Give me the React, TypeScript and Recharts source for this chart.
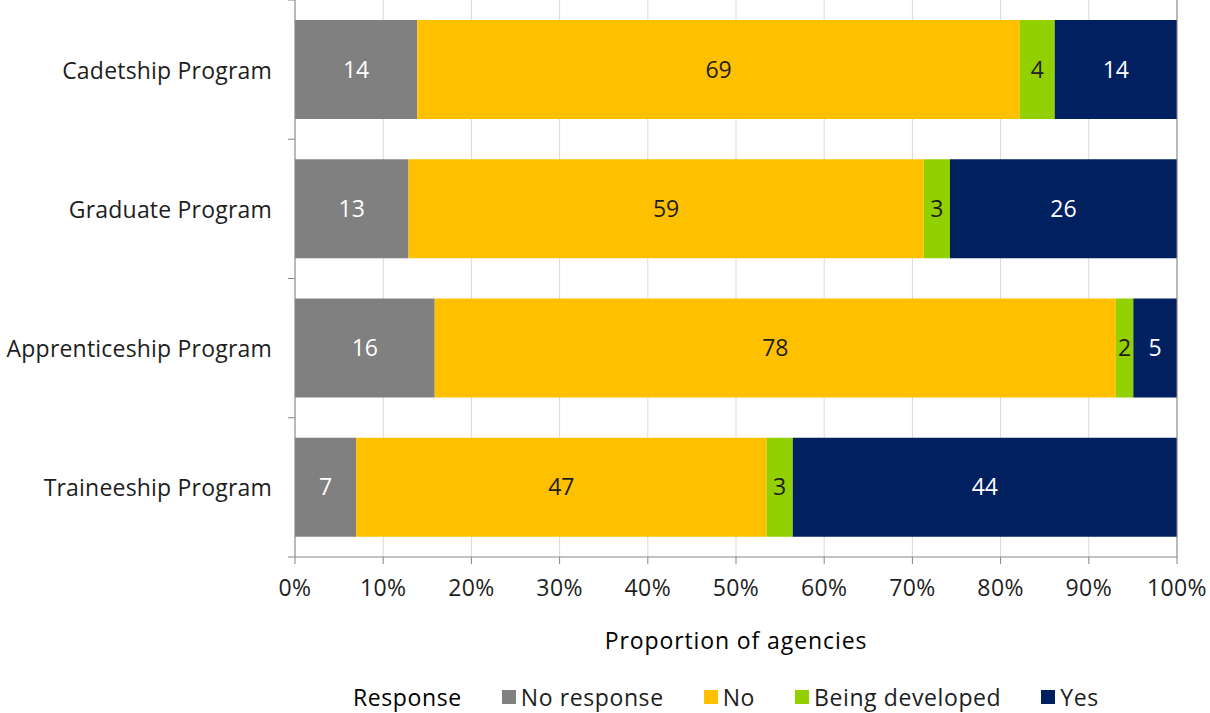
import React from "react";
import {
  Bar,
  BarChart,
  CartesianGrid,
  LabelList,
  Legend,
  ReferenceLine,
  XAxis,
  YAxis,
} from "recharts";

const programs = [
  "Cadetship Program",
  "Graduate Program",
  "Apprenticeship Program",
  "Traineeship Program",
];
const noResponse = [14, 13, 16, 7];
const no = [69, 59, 78, 47];
const beingDeveloped = [4, 3, 2, 3];
const yes = [14, 26, 5, 44];
const xTicks = [0, 0.1, 0.2, 0.3, 0.4, 0.5, 0.6, 0.7, 0.8, 0.9, 1];

const FONT = "'Open Sans', 'Liberation Sans', Arial, sans-serif";
const TEXT = "#1e1e1e";
const AXIS = "#868686";
const FS = 23;

const series = [
  { key: "noResponse", name: "No response", color: "#808080", label: "#ffffff" },
  { key: "no", name: "No", color: "#ffc000", label: "#1e1e1e" },
  { key: "beingDeveloped", name: "Being developed", color: "#92d000", label: "#1e1e1e" },
  { key: "yes", name: "Yes", color: "#002060", label: "#ffffff" },
];

const data = programs.map((program, i) => ({
  program,
  noResponse: noResponse[i],
  no: no[i],
  beingDeveloped: beingDeveloped[i],
  yes: yes[i],
}));

function ProgramTick(props: any) {
  const { x, y, payload, index, visibleTicksCount } = props;
  const half = payload?.offset ?? 69.6;
  const last = index === (visibleTicksCount ?? programs.length) - 1;
  return (
    <g>
      <line x1={x + 23 - 7} x2={x + 23} y1={y - half} y2={y - half} stroke={AXIS} />
      {last && (
        <line x1={x + 23 - 7} x2={x + 23} y1={y + half} y2={y + half} stroke={AXIS} />
      )}
      <text
        x={x}
        y={y}
        textAnchor="end"
        dominantBaseline="central"
        fontSize={FS}
        letterSpacing={0.2}
        fill={TEXT}
        fontFamily={FONT}
      >
        {payload.value}
      </text>
    </g>
  );
}

function ResponseLegend() {
  return (
    <div
      style={{
        display: "flex",
        justifyContent: "flex-start",
        alignItems: "center",
        fontFamily: FONT,
        fontSize: FS,
        letterSpacing: 0.6,
        color: TEXT,
        paddingLeft: 353,
        paddingTop: 24,
      }}
    >
      <span style={{ color: "#000", marginRight: 40 }}>Response</span>
      {series.map((s) => (
        <span
          key={s.key}
          style={{ display: "flex", alignItems: "center", marginRight: 40 }}
        >
          <span
            style={{
              width: 14,
              height: 14,
              background: s.color,
              display: "inline-block",
              marginRight: 5,
            }}
          />
          {s.name}
        </span>
      ))}
    </div>
  );
}

export default function App() {
  return (
    <div style={{ position: "absolute", left: 0, top: 0, background: "#fff" }}>
      <BarChart
        width={1210}
        height={713}
        data={data}
        layout="vertical"
        stackOffset="expand"
        barCategoryGap={20}
        margin={{ top: 0, right: 33, bottom: 0, left: 0 }}
      >
        <CartesianGrid horizontal={false} stroke="#d9d9d9" />
        <XAxis
          type="number"
          domain={[0, 1]}
          ticks={xTicks}
          tickFormatter={(v: number) => `${Math.round(v * 100)}%`}
          tick={{ fontSize: FS, fill: TEXT, fontFamily: FONT, letterSpacing: 0.4 }}
          tickLine={{ stroke: AXIS }}
          tickSize={7}
          tickMargin={16}
          axisLine={{ stroke: AXIS }}
          height={100}
          label={{
            value: "Proportion of agencies",
            position: "insideBottom",
            offset: 8,
            fontSize: FS,
            letterSpacing: 0.9,
            fill: "#000",
            fontFamily: FONT,
          }}
        />
        <YAxis
          type="category"
          dataKey="program"
          width={295}
          axisLine={{ stroke: AXIS }}
          tickLine={false}
          tickSize={0}
          tickMargin={23}
          tick={<ProgramTick />}
        />
        <ReferenceLine x={1} stroke={AXIS} />
        <Legend
          verticalAlign="bottom"
          height={56}
          wrapperStyle={{ left: 0, width: 1210 }}
          content={<ResponseLegend />}
        />
        {series.map((s) => (
          <Bar
            key={s.key}
            dataKey={s.key}
            name={s.name}
            stackId="a"
            fill={s.color}
            isAnimationActive={false}
          >
            <LabelList
              dataKey={s.key}
              position="center"
              fill={s.label}
              fontSize={FS}
              fontFamily={FONT}
            />
          </Bar>
        ))}
      </BarChart>
    </div>
  );
}
